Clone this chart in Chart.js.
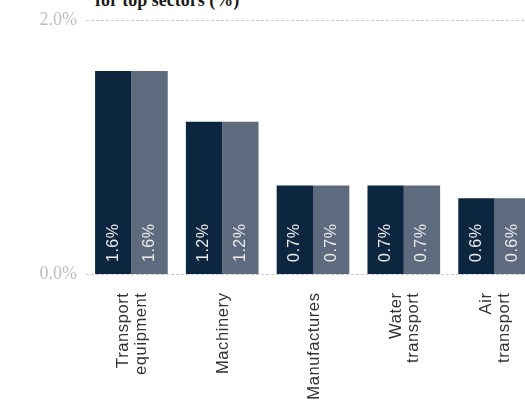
<!DOCTYPE html>
<html>
<head>
<meta charset="utf-8">
<script src="https://cdn.jsdelivr.net/npm/chart.js@4"></script>
<style>
  html, body { margin: 0; padding: 0; background: #fff; overflow: hidden; }
  body { width: 525px; height: 407px; position: relative; }
  #title {
    position: absolute; left: 95px; top: -9px;
    font: bold 18px "Liberation Serif", serif; color: #1a1a1a;
    line-height: 18px; white-space: nowrap;
  }
  #wrap { position: absolute; left: 0; top: 0; width: 540px; height: 407px; }
</style>
</head>
<body>
<div id="title">for top sectors (%)</div>
<div id="wrap"><canvas id="chart"></canvas></div>
<script>
// chart data
const categories = [['Transport', 'equipment'], ['Machinery'], ['Manufactures'], ['Water', 'transport'], ['Air', 'transport']];
const seriesA = [1.6, 1.2, 0.7, 0.7, 0.6];
const seriesB = [1.6, 1.2, 0.7, 0.7, 0.6];
const yTicks = [0, 2.0];

// white rotated value labels inside the bars
const barLabels = {
    id: 'barLabels',
    afterDatasetsDraw(chart) {
        const ctx = chart.ctx;
        chart.data.datasets.forEach(function(ds, i) {
            chart.getDatasetMeta(i).data.forEach(function(bar, j) {
                ctx.save();
                ctx.translate(bar.x, bar.base - 12);
                ctx.rotate(-Math.PI / 2);
                ctx.fillStyle = '#ececec';
                ctx.font = '16px "Liberation Sans", sans-serif';
                ctx.letterSpacing = '0.5px';
                ctx.textAlign = 'left';
                ctx.textBaseline = 'middle';
                ctx.fillText(ds.data[j].toFixed(1) + '%', 0, 0);
                ctx.restore();
            });
        });
    }
};

// category labels, rotated and centred on each tick
const categoryLabels = {
    id: 'categoryLabels',
    afterDraw(chart) {
        const ctx = chart.ctx;
        const xScale = chart.scales.x;
        const top = chart.chartArea.bottom + 18;
        const lineH = 17.5;
        categories.forEach(function(lines, i) {
            const cx = xScale.getPixelForTick(i);
            lines.forEach(function(line, k) {
                const off = (k - (lines.length - 1) / 2) * lineH + 1;
                ctx.save();
                ctx.translate(cx + off, top);
                ctx.rotate(-Math.PI / 2);
                ctx.fillStyle = '#333333';
                ctx.font = '16.5px "Liberation Sans", sans-serif';
                ctx.letterSpacing = '0.6px';
                ctx.textAlign = 'right';
                ctx.textBaseline = 'middle';
                ctx.fillText(line, 0, 0);
                ctx.restore();
            });
        });
    }
};

new Chart(document.getElementById('chart'), {
    type: 'bar',
    data: {
        labels: categories,
        datasets: [{
            label: 'Series A',
            data: seriesA,
            backgroundColor: '#0d2640'
        }, {
            label: 'Series B',
            data: seriesB,
            backgroundColor: '#5e6b7f'
        }]
    },
    options: {
        responsive: true,
        maintainAspectRatio: false,
        animation: false,
        layout: { padding: { top: 20, right: 0, left: 0, bottom: 0 } },
        datasets: {
            bar: { categoryPercentage: 0.8, barPercentage: 1.0 }
        },
        scales: {
            x: {
                grid: { display: false },
                border: { display: false },
                ticks: { display: false },
                afterFit: function(scale) { scale.height = 132.5; }
            },
            y: {
                min: 0,
                max: 2.0,
                afterBuildTicks: function(scale) {
                    scale.ticks = yTicks.map(v => ({ value: v }));
                },
                afterFit: function(scale) { scale.width = 86; },
                grid: {
                    color: '#c8c8c8',
                    drawTicks: false,
                    borderDash: [3, 2]
                },
                border: { display: false, dash: [3, 2] },
                ticks: {
                    padding: 9,
                    color: '#bdbdbd',
                    font: { family: '"Liberation Serif", serif', size: 18 },
                    callback: function(value) { return value.toFixed(1) + '%'; }
                }
            }
        },
        plugins: {
            legend: { display: false },
            tooltip: { enabled: false }
        }
    },
    plugins: [barLabels, categoryLabels]
});
</script>
</body>
</html>
